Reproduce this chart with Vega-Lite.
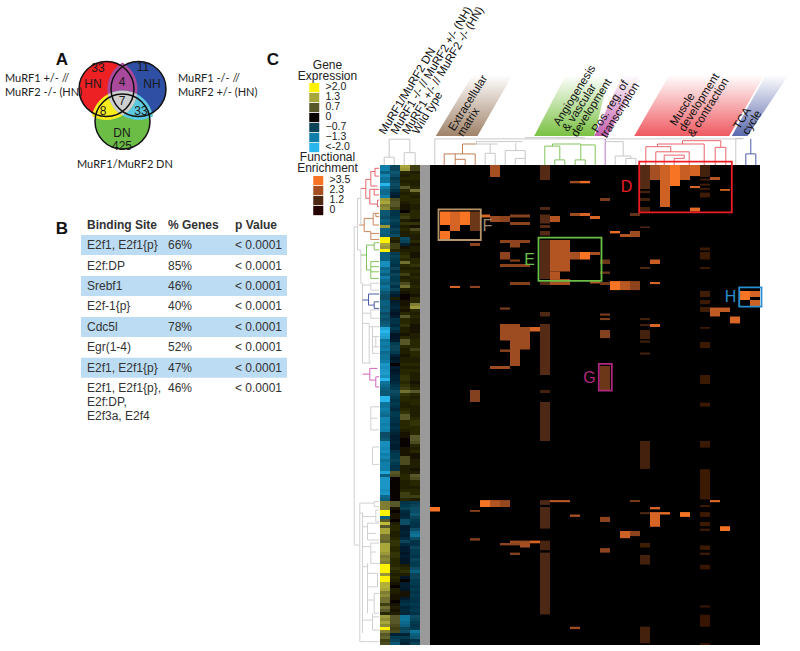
{"$schema":"https://vega.github.io/schema/vega-lite/v6.json","padding":0,"spacing":0,"config":{"view":{"stroke":null},"font":"Liberation Sans"},
"datasets":{
"venn":[{"set":"HN","x":106.5,"y":89},{"set":"NH","x":138.5,"y":89},{"set":"DN","x":122.5,"y":121.5}],
"regions":[{"region":"HN & NH","x":122.5,"y":100},{"region":"HN & DN","x":122.5,"y":100},{"region":"NH & DN","x":122.5,"y":100},{"region":"All","x":122.5,"y":100}],
"vennText":[{"x":98,"y":68,"label":"33"},{"x":93,"y":84,"label":"HN"},{"x":122,"y":82,"label":"4"},{"x":143,"y":67,"label":"11"},{"x":152,"y":84,"label":"NH"},{"x":122,"y":101,"label":"7"},{"x":103,"y":111,"label":"8"},{"x":141,"y":111,"label":"33"},{"x":122,"y":133,"label":"DN"},{"x":122,"y":146,"label":"425"}],
"vennNames":[{"x":5,"y":79,"label":"MuRF1 +/- //"},{"x":5,"y":93,"label":"MuRF2 -/- (HN)"},{"x":178,"y":79,"label":"MuRF1 -/- //"},{"x":178,"y":93,"label":"MuRF2 +/- (HN)"},{"x":77,"y":165,"label":"MuRF1/MuRF2 DN"}],
"table":[{"row":0,"site":"Binding Site","genes":"% Genes","p":"p Value","head":true,"shade":false},{"row":1,"site":"E2f1, E2f1{p}","genes":"66%","p":"< 0.0001","head":false,"shade":true},{"row":2,"site":"E2f:DP","genes":"85%","p":"< 0.0001","head":false,"shade":false},{"row":3,"site":"Srebf1","genes":"46%","p":"< 0.0001","head":false,"shade":true},{"row":4,"site":"E2f-1{p}","genes":"40%","p":"< 0.0001","head":false,"shade":false},{"row":5,"site":"Cdc5l","genes":"78%","p":"< 0.0001","head":false,"shade":true},{"row":6,"site":"Egr(1-4)","genes":"52%","p":"< 0.0001","head":false,"shade":false},{"row":7,"site":"E2f1, E2f1{p}","genes":"47%","p":"< 0.0001","head":false,"shade":true},{"row":8,"site":"E2f1, E2f1{p},\nE2f:DP,\nE2f3a, E2f4","genes":"46%","p":"< 0.0001","head":false,"shade":false}],
"frame":[{"part":"matrix","col":0,"col2":33,"row":0,"row2":160},{"part":"spacer","col":-1,"col2":0,"row":0,"row2":160}],
"boxes":[{"name":"D","col":20.92,"col2":30.18,"row":-1.1,"row2":15.8,"textCol":19.65,"textRow":7.3},{"name":"E","col":10.85,"col2":17.15,"row":24.2,"row2":38.6,"textCol":9.95,"textRow":31.7},{"name":"F","col":0.85,"col2":5.08,"row":14.8,"row2":25,"textCol":5.75,"textRow":20.3},{"name":"G","col":16.88,"col2":18.18,"row":66.3,"row2":75.2,"textCol":15.95,"textRow":71},{"name":"H","col":30.92,"col2":33.15,"row":40.8,"row2":47.2,"textCol":30.05,"textRow":44}],
"sampleLabels":[{"col":-4.75,"row":-10.5,"label":"MuRF1/MuRF2 DN"},{"col":-3.58,"row":-10.5,"label":"MuRF1 -/- // MuRF2 +/- (NH)"},{"col":-2.42,"row":-10.5,"label":"MuRF1 +/- // MuRF2 -/- (HN)"},{"col":-1.42,"row":-10.5,"label":"Wild type"}],
"bandLabels":[{"col":2.42,"row":-11.1,"label":"Extracellular\nmatrix"},{"col":12.92,"row":-12.8,"label":"Angiogenesis\n& vascular\ndevelopment"},{"col":16.75,"row":-10.6,"label":"Pos. reg. of\ntranscription"},{"col":24.58,"row":-12.8,"label":"Muscle\ndevelopment\n& contraction"},{"col":30.92,"row":-11.7,"label":"TCA\ncycle"}],
"legendTitles":[{"col":-10.25,"row":-32,"label":"Gene\nExpression"},{"col":-10.25,"row":-1.3,"label":"Functional\nEnrichment"}],
"top":[
{"b":"grey","col":-4.08,"col2":-2.02,"row":-8.6,"row2":-8.6},{"b":"grey","col":-4.08,"col2":-4.08,"row":-8.6,"row2":-2.6},{"b":"grey","col":-4.58,"col2":-3.58,"row":-2.6,"row2":-2.6},{"b":"grey","col":-4.58,"col2":-4.58,"row":-2.6,"row2":0},{"b":"grey","col":-3.58,"col2":-3.58,"row":-2.6,"row2":0},{"b":"grey","col":-2.02,"col2":-2.02,"row":-8.6,"row2":-4.1},{"b":"grey","col":-2.58,"col2":-1.48,"row":-4.1,"row2":-4.1},{"b":"grey","col":-2.58,"col2":-2.58,"row":-4.1,"row2":0},{"b":"grey","col":-1.48,"col2":-1.48,"row":-4.1,"row2":0},
{"b":"grey","col":0.48,"col2":31.25,"row":-8.7,"row2":-8.7},{"b":"grey","col":0.48,"col2":0.48,"row":-8.7,"row2":0},{"b":"grey","col":9.5,"col2":15.5,"row":-9.1,"row2":-9.1},
{"b":"grey","col":4.58,"col2":6.75,"row":-7,"row2":-7},{"b":"brown","col":3.25,"col2":4.58,"row":-7,"row2":-7},{"b":"brown","col":3.25,"col2":3.25,"row":-7,"row2":-3.7},{"b":"brown","col":1.42,"col2":4.52,"row":-3.7,"row2":-3.7},{"b":"brown","col":1.42,"col2":1.42,"row":-3.7,"row2":0},{"b":"brown","col":4.52,"col2":4.52,"row":-3.7,"row2":0},{"b":"brown","col":2.52,"col2":2.52,"row":-3.7,"row2":-1.9},{"b":"brown","col":2.52,"col2":3.52,"row":-1.9,"row2":-1.9},{"b":"brown","col":2.52,"col2":2.52,"row":-1.9,"row2":0},{"b":"brown","col":3.52,"col2":3.52,"row":-1.9,"row2":0},
{"b":"grey","col":4.65,"col2":9.25,"row":-7.8,"row2":-7.8},{"b":"grey","col":4.65,"col2":4.65,"row":-7.8,"row2":-7},{"b":"grey","col":6.02,"col2":6.02,"row":-7,"row2":-3.9},{"b":"grey","col":5.52,"col2":6.52,"row":-3.9,"row2":-3.9},{"b":"grey","col":5.52,"col2":5.52,"row":-3.9,"row2":0},{"b":"grey","col":6.52,"col2":6.52,"row":-3.9,"row2":0},
{"b":"grey","col":8.58,"col2":8.58,"row":-7.4,"row2":-4.8},{"b":"grey","col":7.52,"col2":9.52,"row":-4.8,"row2":-4.8},{"b":"grey","col":7.52,"col2":7.52,"row":-4.8,"row2":0},{"b":"grey","col":9.52,"col2":9.52,"row":-4.8,"row2":0},{"b":"grey","col":8.52,"col2":9.52,"row":-2.2,"row2":-2.2},{"b":"grey","col":8.52,"col2":8.52,"row":-2.2,"row2":0},
{"b":"green","col":11.48,"col2":12.98,"row":-6.3,"row2":-6.3},{"b":"green","col":11.48,"col2":11.48,"row":-6.3,"row2":0},{"b":"green","col":12.98,"col2":12.98,"row":-6.3,"row2":-1.7},{"b":"green","col":12.48,"col2":13.48,"row":-1.7,"row2":-1.7},{"b":"green","col":12.48,"col2":12.48,"row":-1.7,"row2":0},{"b":"green","col":13.48,"col2":13.48,"row":-1.7,"row2":0},{"b":"green","col":12.25,"col2":15.08,"row":-7,"row2":-7},{"b":"green","col":12.25,"col2":12.25,"row":-7,"row2":-6.3},{"b":"green","col":15.08,"col2":15.08,"row":-7,"row2":-1.7},{"b":"green","col":15.08,"col2":16.52,"row":-6.7,"row2":-6.7},{"b":"green","col":16.52,"col2":16.52,"row":-6.7,"row2":0},{"b":"green","col":14.52,"col2":15.52,"row":-1.7,"row2":-1.7},{"b":"green","col":14.52,"col2":14.52,"row":-1.7,"row2":0},{"b":"green","col":15.52,"col2":15.52,"row":-1.7,"row2":0},
{"b":"pink","col":17.52,"col2":17.52,"row":-8.7,"row2":0},
{"b":"grey","col":17.52,"col2":19.32,"row":-7.8,"row2":-7.8},{"b":"grey","col":19.32,"col2":19.32,"row":-7.8,"row2":-3},{"b":"grey","col":18.52,"col2":20.08,"row":-3,"row2":-3},{"b":"grey","col":18.52,"col2":18.52,"row":-3,"row2":0},{"b":"grey","col":20.08,"col2":20.08,"row":-3,"row2":-2.2},{"b":"grey","col":19.58,"col2":20.58,"row":-2.2,"row2":-2.2},{"b":"grey","col":19.58,"col2":19.58,"row":-2.2,"row2":0},{"b":"grey","col":20.58,"col2":20.58,"row":-2.2,"row2":0},
{"b":"red","col":25.25,"col2":29.08,"row":-8.1,"row2":-8.1},{"b":"red","col":25.25,"col2":25.25,"row":-8.1,"row2":-7},{"b":"red","col":22.75,"col2":27.42,"row":-7,"row2":-7},{"b":"red","col":22.75,"col2":22.75,"row":-7,"row2":-6.1},{"b":"red","col":21.58,"col2":24.08,"row":-6.1,"row2":-6.1},{"b":"red","col":21.58,"col2":21.58,"row":-6.1,"row2":0},{"b":"red","col":24.08,"col2":24.08,"row":-6.1,"row2":-4.4},{"b":"red","col":27.42,"col2":27.42,"row":-7,"row2":0},{"b":"red","col":22.58,"col2":25.92,"row":-4.4,"row2":-4.4},{"b":"red","col":22.58,"col2":22.58,"row":-4.4,"row2":0},{"b":"red","col":25.92,"col2":25.92,"row":-4.4,"row2":0},{"b":"red","col":23.42,"col2":25.42,"row":-3.3,"row2":-3.3},{"b":"red","col":23.42,"col2":23.42,"row":-3.3,"row2":0},{"b":"red","col":25.42,"col2":25.42,"row":-3.3,"row2":-2.2},{"b":"red","col":24.42,"col2":25.42,"row":-2.2,"row2":-2.2},{"b":"red","col":24.42,"col2":24.42,"row":-2.2,"row2":0},{"b":"red","col":29.08,"col2":29.08,"row":-8.1,"row2":-5.9},{"b":"red","col":28.52,"col2":29.58,"row":-5.9,"row2":-5.9},{"b":"red","col":28.52,"col2":28.52,"row":-5.9,"row2":0},{"b":"red","col":29.58,"col2":29.58,"row":-5.9,"row2":0},
{"b":"grey","col":30.58,"col2":31.42,"row":-8.9,"row2":-8.9},{"b":"grey","col":30.58,"col2":30.58,"row":-8.9,"row2":0},
{"b":"blue","col":32.08,"col2":32.08,"row":-8.7,"row2":-3.7},{"b":"blue","col":31.58,"col2":32.58,"row":-3.7,"row2":-3.7},{"b":"blue","col":31.58,"col2":31.58,"row":-3.7,"row2":0},{"b":"blue","col":32.58,"col2":32.58,"row":-3.7,"row2":0}
],
"left":[
{"b":"red","col":-6.92,"col2":-6.42,"row":7.8,"row2":7.8},{"b":"red","col":-6.42,"col2":-6.42,"row":4.8,"row2":11.1},{"b":"red","col":-6.42,"col2":-5.92,"row":4.8,"row2":4.8},{"b":"red","col":-5.92,"col2":-5.92,"row":2.2,"row2":7},{"b":"red","col":-5.92,"col2":-5.5,"row":2.2,"row2":2.2},{"b":"red","col":-5.5,"col2":-5.5,"row":1.1,"row2":3.7},{"b":"red","col":-5.5,"col2":-5.08,"row":1.1,"row2":1.1},{"b":"red","col":-5.5,"col2":-5.08,"row":3.7,"row2":3.7},{"b":"red","col":-5.92,"col2":-5.25,"row":7,"row2":7},{"b":"red","col":-6.42,"col2":-6.02,"row":11.1,"row2":11.1},{"b":"red","col":-6.02,"col2":-6.02,"row":8.1,"row2":13},{"b":"red","col":-6.02,"col2":-5.08,"row":8.1,"row2":8.1},{"b":"red","col":-5.58,"col2":-5.58,"row":8.1,"row2":10},{"b":"red","col":-5.58,"col2":-5.08,"row":10,"row2":10},{"b":"red","col":-6.02,"col2":-5.25,"row":13,"row2":13},{"b":"red","col":-5.25,"col2":-5.25,"row":11.7,"row2":13.9},{"b":"red","col":-5.25,"col2":-5.08,"row":11.7,"row2":11.7},{"b":"red","col":-5.25,"col2":-5.08,"row":13.9,"row2":13.9},
{"b":"brown","col":-7.08,"col2":-6.58,"row":20,"row2":20},{"b":"brown","col":-6.58,"col2":-6.58,"row":17.8,"row2":22.2},{"b":"brown","col":-6.58,"col2":-5.68,"row":17.8,"row2":17.8},{"b":"brown","col":-5.68,"col2":-5.68,"row":16.1,"row2":20},{"b":"brown","col":-5.68,"col2":-5.08,"row":16.1,"row2":16.1},{"b":"brown","col":-5.42,"col2":-5.08,"row":17.2,"row2":17.2},{"b":"brown","col":-5.42,"col2":-5.42,"row":16.1,"row2":17.2},{"b":"brown","col":-5.68,"col2":-5.08,"row":20,"row2":20},{"b":"brown","col":-6.58,"col2":-5.92,"row":22.2,"row2":22.2},{"b":"brown","col":-5.92,"col2":-5.92,"row":22.2,"row2":24.8},{"b":"brown","col":-5.92,"col2":-5.08,"row":22.8,"row2":22.8},{"b":"brown","col":-5.92,"col2":-5.08,"row":24.8,"row2":24.8},
{"b":"green","col":-6.92,"col2":-6.35,"row":30,"row2":30},{"b":"green","col":-6.35,"col2":-6.35,"row":26.7,"row2":35},{"b":"green","col":-6.35,"col2":-5.58,"row":26.7,"row2":26.7},{"b":"green","col":-5.58,"col2":-5.58,"row":25.9,"row2":28.3},{"b":"green","col":-5.58,"col2":-5.08,"row":25.9,"row2":25.9},{"b":"green","col":-5.58,"col2":-5.08,"row":28.3,"row2":28.3},{"b":"green","col":-6.35,"col2":-5.92,"row":35,"row2":35},{"b":"green","col":-5.92,"col2":-5.92,"row":32.2,"row2":37.8},{"b":"green","col":-5.92,"col2":-5.08,"row":32.2,"row2":32.2},{"b":"green","col":-5.92,"col2":-5.08,"row":33.9,"row2":33.9},{"b":"green","col":-5.92,"col2":-5.08,"row":35.6,"row2":35.6},{"b":"green","col":-5.92,"col2":-5.08,"row":37.8,"row2":37.8},
{"b":"grey","col":-7.58,"col2":-7.58,"row":20.6,"row2":126.7},{"b":"grey","col":-7.58,"col2":-7.25,"row":20.6,"row2":20.6},{"b":"grey","col":-7.25,"col2":-7.25,"row":11.1,"row2":28.3},{"b":"grey","col":-7.25,"col2":-6.92,"row":11.1,"row2":11.1},{"b":"grey","col":-6.92,"col2":-6.92,"row":7.8,"row2":20},{"b":"grey","col":-7.25,"col2":-6.92,"row":28.3,"row2":28.3},{"b":"grey","col":-6.92,"col2":-6.92,"row":28.3,"row2":39.4},{"b":"grey","col":-6.92,"col2":-6.75,"row":39.4,"row2":39.4},{"b":"grey","col":-6.75,"col2":-6.75,"row":39.4,"row2":66},{"b":"grey","col":-6.75,"col2":-5.92,"row":40,"row2":40},{"b":"grey","col":-5.92,"col2":-5.92,"row":39.4,"row2":41.7},{"b":"grey","col":-5.92,"col2":-5.08,"row":39.4,"row2":39.4},{"b":"grey","col":-5.92,"col2":-5.08,"row":41.7,"row2":41.7},
{"b":"blue","col":-6.75,"col2":-6.15,"row":45,"row2":45},{"b":"blue","col":-6.15,"col2":-6.15,"row":43,"row2":46.7},{"b":"blue","col":-6.15,"col2":-5.08,"row":43,"row2":43},{"b":"blue","col":-6.15,"col2":-5.58,"row":46.7,"row2":46.7},{"b":"blue","col":-5.58,"col2":-5.58,"row":45.6,"row2":47.8},{"b":"blue","col":-5.58,"col2":-5.08,"row":45.6,"row2":45.6},{"b":"blue","col":-5.58,"col2":-5.08,"row":47.8,"row2":47.8},
{"b":"grey","col":-6.75,"col2":-5.92,"row":49.4,"row2":49.4},{"b":"grey","col":-5.92,"col2":-5.92,"row":48.3,"row2":51.1},{"b":"grey","col":-5.92,"col2":-5.08,"row":48.3,"row2":48.3},{"b":"grey","col":-5.92,"col2":-5.08,"row":51.1,"row2":51.1},{"b":"grey","col":-6.75,"col2":-6.08,"row":52.8,"row2":52.8},{"b":"grey","col":-6.08,"col2":-6.08,"row":52.8,"row2":66},{"b":"grey","col":-6.08,"col2":-5.08,"row":53.9,"row2":53.9},{"b":"grey","col":-5.75,"col2":-5.75,"row":53.9,"row2":62.8},{"b":"grey","col":-5.75,"col2":-5.08,"row":57.2,"row2":57.2},{"b":"grey","col":-5.75,"col2":-5.08,"row":60.6,"row2":60.6},{"b":"grey","col":-5.42,"col2":-5.42,"row":57.2,"row2":60.6},{"b":"grey","col":-5.75,"col2":-5.08,"row":62.8,"row2":62.8},{"b":"grey","col":-6.75,"col2":-5.92,"row":66,"row2":66},
{"b":"pink","col":-6.75,"col2":-6.02,"row":69.7,"row2":69.7},{"b":"pink","col":-6.02,"col2":-6.02,"row":67.8,"row2":71.7},{"b":"pink","col":-6.02,"col2":-5.25,"row":67.8,"row2":67.8},{"b":"pink","col":-6.02,"col2":-5.42,"row":71.7,"row2":71.7},{"b":"pink","col":-5.42,"col2":-5.42,"row":70.6,"row2":74},{"b":"pink","col":-5.42,"col2":-5.08,"row":70.6,"row2":70.6},{"b":"pink","col":-5.42,"col2":-5.08,"row":74,"row2":74},
{"b":"grey","col":-5.92,"col2":-5.92,"row":80.6,"row2":88.3},{"b":"grey","col":-5.92,"col2":-5.08,"row":80.6,"row2":80.6},{"b":"grey","col":-5.92,"col2":-5.08,"row":88.3,"row2":88.3},{"b":"grey","col":-5.92,"col2":-5.25,"row":84.4,"row2":84.4},{"b":"grey","col":-5.75,"col2":-5.75,"row":94,"row2":99.8},{"b":"grey","col":-5.75,"col2":-5.08,"row":94,"row2":94},{"b":"grey","col":-5.75,"col2":-5.08,"row":99.8,"row2":99.8},
{"b":"grey","col":-7.58,"col2":-7.02,"row":126.7,"row2":126.7},{"b":"grey","col":-7.02,"col2":-7.02,"row":112.7,"row2":158.9},{"b":"grey","col":-7.02,"col2":-5.58,"row":112.7,"row2":112.7},{"b":"grey","col":-5.58,"col2":-5.58,"row":112.2,"row2":113.9},{"b":"grey","col":-5.58,"col2":-5.08,"row":112.2,"row2":112.2},{"b":"grey","col":-5.58,"col2":-5.08,"row":113.9,"row2":113.9},{"b":"grey","col":-7.02,"col2":-6.75,"row":116,"row2":116},{"b":"grey","col":-6.75,"col2":-6.75,"row":116,"row2":156},{"b":"grey","col":-6.75,"col2":-5.42,"row":117.2,"row2":117.2},{"b":"grey","col":-5.42,"col2":-5.42,"row":115,"row2":118.9},{"b":"grey","col":-5.42,"col2":-5.08,"row":115,"row2":115},{"b":"grey","col":-5.42,"col2":-5.08,"row":118.9,"row2":118.9},{"b":"grey","col":-6.75,"col2":-6.25,"row":120.6,"row2":120.6},{"b":"grey","col":-6.25,"col2":-6.25,"row":119.4,"row2":125},{"b":"grey","col":-6.25,"col2":-5.08,"row":119.4,"row2":119.4},{"b":"grey","col":-6.25,"col2":-5.08,"row":125,"row2":125},{"b":"grey","col":-6.25,"col2":-5.42,"row":122.8,"row2":122.8},{"b":"grey","col":-6.75,"col2":-5.92,"row":127.2,"row2":127.2},{"b":"grey","col":-5.92,"col2":-5.92,"row":126,"row2":132.8},{"b":"grey","col":-5.92,"col2":-5.08,"row":126,"row2":126},{"b":"grey","col":-5.92,"col2":-5.08,"row":132.8,"row2":132.8},{"b":"grey","col":-5.92,"col2":-5.42,"row":129,"row2":129},{"b":"grey","col":-6.75,"col2":-6.25,"row":133.9,"row2":133.9},{"b":"grey","col":-6.25,"col2":-6.25,"row":132.8,"row2":149.4},{"b":"grey","col":-6.25,"col2":-5.25,"row":136.1,"row2":136.1},{"b":"grey","col":-6.25,"col2":-5.25,"row":140.6,"row2":140.6},{"b":"grey","col":-5.25,"col2":-5.25,"row":136.1,"row2":140.6},{"b":"grey","col":-6.25,"col2":-5.58,"row":145,"row2":145},{"b":"grey","col":-5.58,"col2":-5.58,"row":142.8,"row2":149.4},{"b":"grey","col":-5.58,"col2":-5.08,"row":142.8,"row2":142.8},{"b":"grey","col":-5.58,"col2":-5.08,"row":149.4,"row2":149.4},{"b":"grey","col":-6.75,"col2":-5.75,"row":151.7,"row2":151.7},{"b":"grey","col":-5.75,"col2":-5.75,"row":149.4,"row2":155},{"b":"grey","col":-5.75,"col2":-5.08,"row":150.6,"row2":150.6},{"b":"grey","col":-5.75,"col2":-5.08,"row":155,"row2":155},{"b":"grey","col":-7.02,"col2":-5.08,"row":158.9,"row2":158.9}
],
"samples":[{"sample":"DN","col":-5,"col2":-4},{"sample":"NH","col":-4,"col2":-3},{"sample":"HN","col":-3,"col2":-2},{"sample":"WT","col":-2,"col2":-1}],
"expression":[
{"row":0,"row2":1,"DN":-1.3,"NH":-0.7,"HN":1.3,"WT":0.5},{"row":1,"row2":2,"DN":-1.3,"NH":-0.7,"HN":1.2,"WT":0.5},{"row":2,"row2":3,"DN":-1.0,"NH":-0.9,"HN":0.3,"WT":0.2},{"row":3,"row2":4,"DN":-1.4,"NH":-0.8,"HN":0.2,"WT":0.3},{"row":4,"row2":5,"DN":-1.2,"NH":-0.6,"HN":0.3,"WT":0.3},{"row":5,"row2":6,"DN":-1.2,"NH":-0.7,"HN":0.2,"WT":0.2},{"row":6,"row2":7,"DN":-2.0,"NH":-0.8,"HN":0.3,"WT":0.2},{"row":7,"row2":8,"DN":-1.3,"NH":-0.7,"HN":0.7,"WT":0.3},{"row":8,"row2":9,"DN":-1.1,"NH":-0.5,"HN":0.3,"WT":0.9},{"row":9,"row2":10,"DN":-1.1,"NH":-0.3,"HN":0.2,"WT":0.3},
{"row":10,"row2":11,"DN":-1.3,"NH":-0.2,"HN":0.3,"WT":0.2},{"row":11,"row2":12,"DN":1.2,"NH":0.6,"HN":0.3,"WT":0.3},{"row":12,"row2":13,"DN":1.3,"NH":0.7,"HN":0.2,"WT":0.3},{"row":13,"row2":14,"DN":1.0,"NH":0.7,"HN":0.1,"WT":0.2},{"row":14,"row2":15,"DN":1.1,"NH":0.5,"HN":0.1,"WT":0.2},{"row":15,"row2":16,"DN":-0.9,"NH":-0.5,"HN":0.0,"WT":0.3},{"row":16,"row2":17,"DN":-0.9,"NH":-0.5,"HN":0.4,"WT":0.3},{"row":17,"row2":18,"DN":-0.8,"NH":-0.6,"HN":0.5,"WT":0.3},{"row":18,"row2":19,"DN":-1.0,"NH":-0.7,"HN":0.2,"WT":0.1},{"row":19,"row2":20,"DN":-0.9,"NH":-0.6,"HN":0.4,"WT":0.4},
{"row":20,"row2":21,"DN":1.2,"NH":-0.5,"HN":0.2,"WT":0.1},{"row":21,"row2":22,"DN":-1.0,"NH":-0.7,"HN":0.3,"WT":0.6},{"row":22,"row2":23,"DN":-1.0,"NH":-0.6,"HN":0.2,"WT":0.3},{"row":23,"row2":24,"DN":-0.9,"NH":-0.8,"HN":0.2,"WT":0.2},{"row":24,"row2":25,"DN":2.0,"NH":0.3,"HN":-0.8,"WT":0.2},{"row":25,"row2":26,"DN":2.0,"NH":0.2,"HN":-0.7,"WT":0.3},{"row":26,"row2":27,"DN":1.3,"NH":0.5,"HN":-0.3,"WT":0.1},{"row":27,"row2":28,"DN":1.2,"NH":0.5,"HN":0.1,"WT":0.2},{"row":28,"row2":29,"DN":2.0,"NH":0.3,"HN":0.2,"WT":0.2},{"row":29,"row2":30,"DN":-1.0,"NH":-0.6,"HN":0.3,"WT":0.1},
{"row":30,"row2":31,"DN":-1.0,"NH":-0.7,"HN":0.4,"WT":0.1},{"row":31,"row2":32,"DN":-1.0,"NH":-0.6,"HN":0.3,"WT":0.3},{"row":32,"row2":33,"DN":-1.5,"NH":-0.6,"HN":0.9,"WT":0.3},{"row":33,"row2":34,"DN":-1.5,"NH":-0.5,"HN":0.3,"WT":0.4},{"row":34,"row2":35,"DN":-1.1,"NH":-0.7,"HN":0.2,"WT":0.2},{"row":35,"row2":36,"DN":-1.2,"NH":-0.5,"HN":0.3,"WT":0.3},{"row":36,"row2":37,"DN":-1.0,"NH":-0.7,"HN":0.5,"WT":0.2},{"row":37,"row2":38,"DN":-1.3,"NH":-0.6,"HN":0.2,"WT":0.3},{"row":38,"row2":39,"DN":-1.1,"NH":-0.6,"HN":0.3,"WT":0.2},{"row":39,"row2":40,"DN":-1.0,"NH":-0.7,"HN":0.6,"WT":0.2},
{"row":40,"row2":41,"DN":-1.2,"NH":-0.5,"HN":0.9,"WT":0.3},{"row":41,"row2":42,"DN":-1.1,"NH":-0.7,"HN":0.2,"WT":0.2},{"row":42,"row2":43,"DN":-0.9,"NH":-0.4,"HN":0.1,"WT":0.2},{"row":43,"row2":44,"DN":-0.8,"NH":-0.2,"HN":0.0,"WT":0.1},{"row":44,"row2":45,"DN":-0.8,"NH":0.2,"HN":0.0,"WT":0.3},{"row":45,"row2":46,"DN":-1.0,"NH":-0.2,"HN":0.1,"WT":0.3},{"row":46,"row2":47,"DN":-1.0,"NH":-0.3,"HN":0.1,"WT":1.0},{"row":47,"row2":48,"DN":-0.9,"NH":-0.4,"HN":0.2,"WT":1.2},{"row":48,"row2":49,"DN":-1.0,"NH":-0.2,"HN":0.1,"WT":0.3},{"row":49,"row2":50,"DN":-0.8,"NH":-0.1,"HN":0.3,"WT":0.2},
{"row":50,"row2":51,"DN":-0.9,"NH":-0.2,"HN":0.7,"WT":0.3},{"row":51,"row2":52,"DN":-0.8,"NH":-0.5,"HN":0.3,"WT":0.2},{"row":52,"row2":53,"DN":-0.9,"NH":-0.5,"HN":0.3,"WT":0.2},{"row":53,"row2":54,"DN":-1.0,"NH":-0.4,"HN":0.4,"WT":0.1},{"row":54,"row2":55,"DN":-1.8,"NH":-0.6,"HN":0.2,"WT":0.1},{"row":55,"row2":56,"DN":-2.0,"NH":-0.4,"HN":0.2,"WT":0.1},{"row":56,"row2":57,"DN":-1.8,"NH":-0.1,"HN":0.1,"WT":0.2},{"row":57,"row2":58,"DN":-1.7,"NH":-0.1,"HN":0.3,"WT":0.2},{"row":58,"row2":59,"DN":-1.2,"NH":-0.2,"HN":0.7,"WT":0.3},{"row":59,"row2":60,"DN":-1.3,"NH":-0.6,"HN":0.7,"WT":0.3},
{"row":60,"row2":61,"DN":-1.2,"NH":-0.7,"HN":0.3,"WT":0.3},{"row":61,"row2":62,"DN":-1.3,"NH":-0.7,"HN":0.2,"WT":0.5},{"row":62,"row2":63,"DN":-1.1,"NH":-0.6,"HN":0.2,"WT":0.3},{"row":63,"row2":64,"DN":-1.2,"NH":-0.3,"HN":0.1,"WT":0.3},{"row":64,"row2":65,"DN":-1.2,"NH":-0.1,"HN":0.2,"WT":0.2},{"row":65,"row2":66,"DN":-1.3,"NH":-0.2,"HN":0.2,"WT":0.2},{"row":66,"row2":67,"DN":-1.6,"NH":0.0,"HN":0.3,"WT":0.3},{"row":67,"row2":68,"DN":-1.5,"NH":-0.2,"HN":0.2,"WT":0.2},{"row":68,"row2":69,"DN":-1.6,"NH":-0.1,"HN":0.3,"WT":0.3},{"row":69,"row2":70,"DN":-1.7,"NH":-0.2,"HN":0.3,"WT":0.2},
{"row":70,"row2":71,"DN":-1.5,"NH":-0.3,"HN":0.4,"WT":0.2},{"row":71,"row2":72,"DN":-2.0,"NH":-0.3,"HN":0.4,"WT":0.2},{"row":72,"row2":73,"DN":-1.2,"NH":-0.4,"HN":0.3,"WT":0.1},{"row":73,"row2":74,"DN":-1.1,"NH":-0.5,"HN":0.4,"WT":0.2},{"row":74,"row2":75,"DN":-1.0,"NH":-0.6,"HN":0.5,"WT":0.3},{"row":75,"row2":76,"DN":-0.9,"NH":-0.8,"HN":0.9,"WT":0.7},{"row":76,"row2":77,"DN":-0.9,"NH":-0.7,"HN":0.4,"WT":0.3},{"row":77,"row2":78,"DN":-2.0,"NH":-0.6,"HN":0.3,"WT":0.2},{"row":78,"row2":79,"DN":-2.0,"NH":-0.5,"HN":0.3,"WT":0.3},{"row":79,"row2":80,"DN":-1.2,"NH":-0.6,"HN":0.2,"WT":0.3},
{"row":80,"row2":81,"DN":-1.2,"NH":-0.5,"HN":0.2,"WT":0.2},{"row":81,"row2":82,"DN":-1.3,"NH":-0.4,"HN":0.3,"WT":0.2},{"row":82,"row2":83,"DN":-1.2,"NH":-0.6,"HN":0.4,"WT":0.2},{"row":83,"row2":84,"DN":-1.1,"NH":-0.6,"HN":0.7,"WT":0.2},{"row":84,"row2":85,"DN":-1.4,"NH":-0.5,"HN":0.7,"WT":0.3},{"row":85,"row2":86,"DN":-1.4,"NH":-0.5,"HN":0.3,"WT":0.4},{"row":86,"row2":87,"DN":-1.3,"NH":-0.4,"HN":0.3,"WT":0.4},{"row":87,"row2":88,"DN":-1.4,"NH":-0.5,"HN":0.3,"WT":0.3},{"row":88,"row2":89,"DN":-1.3,"NH":-0.4,"HN":0.2,"WT":0.3},{"row":89,"row2":90,"DN":-0.8,"NH":-0.3,"HN":0.1,"WT":0.3},
{"row":90,"row2":91,"DN":-0.8,"NH":-0.2,"HN":0.1,"WT":0.7},{"row":91,"row2":92,"DN":-0.9,"NH":-0.2,"HN":0.0,"WT":0.7},{"row":92,"row2":93,"DN":-1.5,"NH":-0.3,"HN":0.0,"WT":0.6},{"row":93,"row2":94,"DN":-1.5,"NH":-0.2,"HN":0.0,"WT":0.3},{"row":94,"row2":95,"DN":-1.4,"NH":-0.2,"HN":0.1,"WT":0.2},{"row":95,"row2":96,"DN":-1.5,"NH":-0.5,"HN":0.1,"WT":0.3},{"row":96,"row2":97,"DN":-1.3,"NH":-0.6,"HN":0.1,"WT":0.1},{"row":97,"row2":98,"DN":-1.4,"NH":-0.6,"HN":0.6,"WT":0.1},{"row":98,"row2":99,"DN":-1.2,"NH":-0.7,"HN":0.6,"WT":0.2},{"row":99,"row2":100,"DN":-1.3,"NH":-0.6,"HN":0.6,"WT":0.2},
{"row":100,"row2":101,"DN":-1.3,"NH":-0.5,"HN":0.2,"WT":0.2},{"row":101,"row2":102,"DN":-1.3,"NH":-0.5,"HN":0.2,"WT":0.1},{"row":102,"row2":103,"DN":-1.8,"NH":0.7,"HN":0.2,"WT":0.2},{"row":103,"row2":104,"DN":-1.0,"NH":0.6,"HN":0.3,"WT":0.7},{"row":104,"row2":105,"DN":-1.6,"NH":0.0,"HN":0.3,"WT":0.6},{"row":105,"row2":106,"DN":-1.6,"NH":0.0,"HN":0.2,"WT":0.3},{"row":106,"row2":107,"DN":-1.6,"NH":0.0,"HN":0.2,"WT":0.3},{"row":107,"row2":108,"DN":-1.6,"NH":0.0,"HN":0.2,"WT":0.2},{"row":108,"row2":109,"DN":-1.5,"NH":0.0,"HN":0.3,"WT":0.3},{"row":109,"row2":110,"DN":-1.6,"NH":0.0,"HN":0.5,"WT":0.3},
{"row":110,"row2":111,"DN":-1.1,"NH":0.0,"HN":0.5,"WT":0.5},{"row":111,"row2":112,"DN":-1.0,"NH":0.0,"HN":0.3,"WT":0.2},{"row":112,"row2":113,"DN":1.0,"NH":0.7,"HN":-0.5,"WT":-0.6},{"row":113,"row2":114,"DN":1.0,"NH":0.7,"HN":-0.6,"WT":-0.7},{"row":114,"row2":115,"DN":1.0,"NH":0.1,"HN":-0.7,"WT":-0.8},{"row":115,"row2":116,"DN":2.0,"NH":0.0,"HN":-0.4,"WT":-0.8},{"row":116,"row2":117,"DN":2.0,"NH":0.1,"HN":-0.3,"WT":-0.9},{"row":117,"row2":118,"DN":-1.0,"NH":0.1,"HN":-0.4,"WT":-0.7},{"row":118,"row2":119,"DN":0.7,"NH":0.0,"HN":-0.8,"WT":-0.6},{"row":119,"row2":120,"DN":1.5,"NH":0.2,"HN":-0.8,"WT":-0.5},
{"row":120,"row2":121,"DN":0.7,"NH":0.3,"HN":-0.2,"WT":-0.5},{"row":121,"row2":122,"DN":1.3,"NH":0.3,"HN":-0.2,"WT":-0.8},{"row":122,"row2":123,"DN":1.3,"NH":0.2,"HN":-0.3,"WT":-1.1},{"row":123,"row2":124,"DN":0.9,"NH":0.2,"HN":-0.2,"WT":-1.2},{"row":124,"row2":125,"DN":0.9,"NH":0.3,"HN":-0.4,"WT":-0.8},{"row":125,"row2":126,"DN":0.8,"NH":0.4,"HN":-0.7,"WT":-0.5},{"row":126,"row2":127,"DN":1.3,"NH":0.4,"HN":-0.4,"WT":-0.5},{"row":127,"row2":128,"DN":1.3,"NH":0.3,"HN":-0.2,"WT":-0.7},{"row":128,"row2":129,"DN":1.3,"NH":0.3,"HN":-0.2,"WT":-0.6},{"row":129,"row2":130,"DN":1.2,"NH":0.4,"HN":-0.1,"WT":-0.6},
{"row":130,"row2":131,"DN":1.0,"NH":0.4,"HN":-0.2,"WT":-0.5},{"row":131,"row2":132,"DN":1.1,"NH":0.3,"HN":-0.1,"WT":-0.7},{"row":132,"row2":133,"DN":1.0,"NH":0.3,"HN":-0.1,"WT":-0.6},{"row":133,"row2":134,"DN":2.0,"NH":0.3,"HN":0.2,"WT":-0.6},{"row":134,"row2":135,"DN":2.0,"NH":0.4,"HN":0.3,"WT":-0.8},{"row":135,"row2":136,"DN":2.0,"NH":0.3,"HN":0.4,"WT":-1.0},{"row":136,"row2":137,"DN":1.2,"NH":0.2,"HN":0.2,"WT":-0.7},{"row":137,"row2":138,"DN":2.0,"NH":0.3,"HN":-0.1,"WT":-0.7},{"row":138,"row2":139,"DN":2.0,"NH":0.2,"HN":0.0,"WT":-0.6},{"row":139,"row2":140,"DN":1.4,"NH":0.1,"HN":-0.2,"WT":-0.6},
{"row":140,"row2":141,"DN":1.4,"NH":0.0,"HN":-0.2,"WT":-0.5},{"row":141,"row2":142,"DN":1.3,"NH":0.2,"HN":-0.1,"WT":-0.6},{"row":142,"row2":143,"DN":1.0,"NH":0.2,"HN":0.1,"WT":-0.5},{"row":143,"row2":144,"DN":1.1,"NH":0.1,"HN":0.1,"WT":-0.6},{"row":144,"row2":145,"DN":0.9,"NH":0.1,"HN":-0.2,"WT":-0.5},{"row":145,"row2":146,"DN":0.9,"NH":0.0,"HN":-0.4,"WT":-0.5},{"row":146,"row2":147,"DN":0.5,"NH":0.1,"HN":-0.5,"WT":-0.6},{"row":147,"row2":148,"DN":0.9,"NH":0.2,"HN":-0.3,"WT":-0.5},{"row":148,"row2":149,"DN":0.7,"NH":0.1,"HN":-0.4,"WT":-0.6},{"row":149,"row2":150,"DN":0.3,"NH":0.2,"HN":-0.3,"WT":-0.5},
{"row":150,"row2":151,"DN":1.2,"NH":0.7,"HN":-1.2,"WT":-0.8},{"row":151,"row2":152,"DN":1.1,"NH":0.7,"HN":-1.2,"WT":-0.7},{"row":152,"row2":153,"DN":1.3,"NH":0.7,"HN":-1.1,"WT":-0.6},{"row":153,"row2":154,"DN":1.1,"NH":0.6,"HN":-1.0,"WT":-0.5},{"row":154,"row2":155,"DN":2.0,"NH":0.5,"HN":-0.7,"WT":-0.6},{"row":155,"row2":156,"DN":1.0,"NH":0.6,"HN":-0.8,"WT":-1.2},{"row":156,"row2":157,"DN":0.7,"NH":-0.3,"HN":-0.3,"WT":-1.0},{"row":157,"row2":158,"DN":0.8,"NH":-0.6,"HN":-0.6,"WT":-0.9},{"row":158,"row2":159,"DN":0.5,"NH":-0.7,"HN":-0.4,"WT":-0.5},{"row":159,"row2":160,"DN":0.6,"NH":-0.9,"HN":-0.3,"WT":-0.7}
],
"enrichment":[
{"col":6,"col2":7,"row":0,"row2":4,"v":2.3},{"col":11,"col2":12,"row":0,"row2":5,"v":1.3},{"col":14,"col2":15,"row":5.3,"row2":6.1,"v":2.2},{"col":15,"col2":16,"row":5.3,"row2":6.1,"v":3.3},{"col":17,"col2":18,"row":11,"row2":12,"v":1.8},{"col":11,"col2":12,"row":14,"row2":15,"v":1.2},{"col":14,"col2":15,"row":16,"row2":17,"v":2.2},{"col":15,"col2":16,"row":16,"row2":17,"v":3},{"col":16,"col2":17,"row":17,"row2":18,"v":3},{"col":20,"col2":21,"row":16,"row2":17,"v":1.5},
{"col":1,"col2":2,"row":15.5,"row2":20,"v":3.5},{"col":2,"col2":3,"row":15.5,"row2":22,"v":3},{"col":3,"col2":4,"row":15.5,"row2":20,"v":3.5},{"col":4,"col2":5,"row":15.5,"row2":22,"v":1.6},{"col":1,"col2":2,"row":22,"row2":25,"v":3.5},
{"col":5,"col2":6,"row":16.5,"row2":17.5,"v":3},{"col":6,"col2":7,"row":17,"row2":19,"v":2.2},{"col":7,"col2":8,"row":17,"row2":19,"v":2},{"col":8,"col2":10,"row":16.5,"row2":17.5,"v":1.9},{"col":8,"col2":10,"row":19,"row2":20,"v":2},{"col":11,"col2":12,"row":16.5,"row2":19.5,"v":1.3},{"col":12,"col2":13,"row":17,"row2":19,"v":2.5},{"col":11,"col2":12,"row":20,"row2":21,"v":1.3},{"col":11,"col2":12,"row":22,"row2":23.5,"v":1.3},
{"col":18,"col2":19,"row":22,"row2":22.8,"v":3.3},{"col":19,"col2":20,"row":23,"row2":24,"v":2.5},{"col":20,"col2":21,"row":22,"row2":24,"v":2.2},{"col":21,"col2":22,"row":20.5,"row2":21,"v":1.2},{"col":4,"col2":5,"row":26,"row2":27,"v":2},{"col":7,"col2":10,"row":25,"row2":26,"v":2},{"col":8,"col2":9,"row":26,"row2":27.5,"v":2},
{"col":11,"col2":12,"row":25,"row2":38,"v":1.3},{"col":12,"col2":14,"row":25,"row2":35.5,"v":2.5},{"col":12,"col2":13,"row":35.5,"row2":38,"v":2.5},{"col":14,"col2":15,"row":29,"row2":31.5,"v":2.3},{"col":15,"col2":16,"row":29,"row2":31.5,"v":3.5},{"col":16,"col2":17,"row":29,"row2":30,"v":2.3},
{"col":7,"col2":8,"row":29,"row2":31.5,"v":2},{"col":8,"col2":9,"row":31.5,"row2":32.2,"v":1.9},{"col":7,"col2":10,"row":33,"row2":34,"v":2},{"col":17,"col2":18,"row":31.5,"row2":33,"v":1.6},{"col":17,"col2":18,"row":35.5,"row2":36.3,"v":1.6},{"col":22,"col2":23,"row":31.5,"row2":33,"v":2.8},{"col":21,"col2":22,"row":34,"row2":34.6,"v":1.3},
{"col":11,"col2":12,"row":39,"row2":40,"v":1.3},{"col":12,"col2":14,"row":38,"row2":40,"v":2.3},{"col":16,"col2":17,"row":38.7,"row2":39.5,"v":2.5},{"col":17,"col2":18,"row":39,"row2":40,"v":1.7},{"col":18,"col2":19,"row":38.7,"row2":41.7,"v":3.5},{"col":19,"col2":20,"row":38.7,"row2":41.7,"v":2.6},{"col":20,"col2":21,"row":38.7,"row2":41.7,"v":2},{"col":22,"col2":23,"row":39,"row2":39.7,"v":3},{"col":8,"col2":10,"row":39,"row2":40,"v":1.9},{"col":2,"col2":3,"row":40.3,"row2":41,"v":3},{"col":4,"col2":5,"row":40.3,"row2":41,"v":2},
{"col":21,"col2":22,"row":0,"row2":8,"v":1.3},{"col":21,"col2":22,"row":8.6,"row2":9.4,"v":1},{"col":21,"col2":22,"row":11,"row2":12,"v":1},{"col":21,"col2":22,"row":14,"row2":15.5,"v":1},{"col":22,"col2":23,"row":0,"row2":5,"v":2.3},{"col":23,"col2":24,"row":0,"row2":14,"v":2.9},{"col":24,"col2":25,"row":0,"row2":7,"v":3.5},{"col":25,"col2":26,"row":0,"row2":5,"v":2.8},{"col":26,"col2":27,"row":0,"row2":3.7,"v":3},{"col":27,"col2":28,"row":0,"row2":4,"v":1},{"col":27,"col2":28,"row":4.5,"row2":5.2,"v":0.9},{"col":27,"col2":28,"row":6.2,"row2":6.9,"v":0.9},{"col":27,"col2":28,"row":7.6,"row2":8.3,"v":0.9},{"col":27,"col2":28,"row":9.2,"row2":10.8,"v":0.9},{"col":28,"col2":29,"row":4,"row2":5,"v":2.5},{"col":29,"col2":30,"row":8,"row2":8.6,"v":3},{"col":26,"col2":27,"row":7,"row2":7.7,"v":3},{"col":26,"col2":27,"row":14.2,"row2":15.5,"v":3.2},
{"col":27,"col2":28,"row":27.5,"row2":28.5,"v":0.8},{"col":27,"col2":28,"row":29,"row2":31.5,"v":0.8},{"col":27,"col2":28,"row":34,"row2":34.7,"v":0.8},{"col":27,"col2":28,"row":42,"row2":44,"v":0.9},{"col":27,"col2":28,"row":45,"row2":46.4,"v":0.8},{"col":27,"col2":28,"row":47.3,"row2":49,"v":0.9},{"col":27,"col2":28,"row":54,"row2":54.6,"v":0.8},{"col":27,"col2":28,"row":59,"row2":61,"v":0.8},{"col":27,"col2":28,"row":70,"row2":73,"v":0.8},
{"col":28,"col2":29,"row":47.5,"row2":50.5,"v":2.7},{"col":29,"col2":30,"row":47.5,"row2":49,"v":2.7},{"col":30,"col2":31,"row":50.5,"row2":52.8,"v":3.1},{"col":31,"col2":32,"row":42,"row2":45,"v":3.5},{"col":32,"col2":33,"row":42,"row2":44,"v":3},{"col":32,"col2":33,"row":45,"row2":47,"v":2.9},
{"col":7,"col2":8,"row":53,"row2":58.5,"v":2.2},{"col":8,"col2":9,"row":53,"row2":67,"v":2.2},{"col":9,"col2":10,"row":54,"row2":61.5,"v":2.2},{"col":10,"col2":11,"row":54,"row2":55.5,"v":3},{"col":11,"col2":12,"row":53,"row2":70,"v":1.3},{"col":7,"col2":8,"row":61.5,"row2":62.3,"v":2},{"col":6,"col2":8,"row":67,"row2":68,"v":2.2},{"col":7,"col2":8,"row":47.5,"row2":48.2,"v":1.8},{"col":11,"col2":12,"row":49,"row2":50.5,"v":1.2},{"col":17,"col2":18,"row":49.5,"row2":50.2,"v":1.8},{"col":17,"col2":18,"row":51,"row2":51.7,"v":1.8},{"col":17,"col2":18,"row":55,"row2":57.7,"v":1.9},
{"col":21,"col2":22,"row":51,"row2":51.7,"v":1},{"col":21,"col2":22,"row":53,"row2":53.7,"v":1},{"col":22,"col2":23,"row":53,"row2":54,"v":3},{"col":21,"col2":22,"row":55,"row2":58,"v":1},{"col":21,"col2":22,"row":58.5,"row2":59.2,"v":1},{"col":21,"col2":22,"row":62.5,"row2":63.2,"v":1},{"col":17,"col2":18,"row":67,"row2":75,"v":1.6},{"col":4,"col2":5,"row":75,"row2":79,"v":1.9},{"col":11,"col2":12,"row":75,"row2":76,"v":1},
{"col":11,"col2":12,"row":79,"row2":92,"v":1.2},{"col":27,"col2":28,"row":79.2,"row2":80.5,"v":0.8},{"col":27,"col2":28,"row":92,"row2":94.2,"v":0.8},{"col":27,"col2":28,"row":101.4,"row2":111.5,"v":0.8},{"col":21,"col2":22,"row":92,"row2":101.3,"v":1},
{"col":5,"col2":6,"row":111.7,"row2":114,"v":3.5},{"col":6,"col2":7,"row":111.7,"row2":114,"v":2.5},{"col":7,"col2":8,"row":111.7,"row2":114,"v":2.1},{"col":11,"col2":12,"row":111.7,"row2":113.3,"v":1.2},{"col":12,"col2":14,"row":111.7,"row2":112.4,"v":2.6},{"col":20,"col2":21,"row":111.7,"row2":112.3,"v":1.9},{"col":28,"col2":29,"row":111.7,"row2":112.4,"v":3.2},{"col":0,"col2":1,"row":114,"row2":115.5,"v":3.5},{"col":4,"col2":5,"row":115,"row2":115.6,"v":2},{"col":11,"col2":12,"row":114,"row2":121.2,"v":1.2},{"col":14,"col2":15,"row":116.5,"row2":117.3,"v":2.3},{"col":17,"col2":18,"row":117.3,"row2":119,"v":2},
{"col":22,"col2":23,"row":114,"row2":114.8,"v":3},{"col":22,"col2":23,"row":115.7,"row2":120.6,"v":3},{"col":23,"col2":24,"row":115.7,"row2":116.5,"v":3.3},{"col":21,"col2":22,"row":115.7,"row2":116.4,"v":1.2},{"col":25,"col2":26,"row":115.7,"row2":117.3,"v":3.5},{"col":27,"col2":28,"row":113.3,"row2":114,"v":0.8},{"col":27,"col2":28,"row":115.7,"row2":117.3,"v":0.8},{"col":27,"col2":28,"row":119,"row2":120.4,"v":0.8},{"col":27,"col2":28,"row":121.2,"row2":122,"v":0.8},{"col":29,"col2":30,"row":120.4,"row2":122,"v":3.4},{"col":19,"col2":20,"row":122,"row2":124.4,"v":2.9},{"col":20,"col2":21,"row":122,"row2":123.7,"v":2},{"col":4,"col2":5,"row":124.4,"row2":125.2,"v":1.9},
{"col":8,"col2":10,"row":125.2,"row2":126.1,"v":2.2},{"col":10,"col2":11,"row":125.2,"row2":126.1,"v":3},{"col":7,"col2":9,"row":126,"row2":126.8,"v":2},{"col":9,"col2":10,"row":126,"row2":127.5,"v":2.3},{"col":8,"col2":9,"row":129.2,"row2":130,"v":1.9},{"col":11,"col2":12,"row":125.2,"row2":128.4,"v":1.1},{"col":11,"col2":12,"row":129.2,"row2":149.8,"v":1.2},{"col":17,"col2":18,"row":127.7,"row2":129.2,"v":2},{"col":21,"col2":22,"row":126,"row2":127.5,"v":0.9},{"col":21,"col2":22,"row":130,"row2":133.2,"v":1},
{"col":27,"col2":28,"row":126.8,"row2":128.3,"v":0.8},{"col":27,"col2":28,"row":129.2,"row2":130,"v":0.8},{"col":27,"col2":28,"row":133.2,"row2":134.8,"v":0.7},{"col":27,"col2":28,"row":146.8,"row2":147.5,"v":0.7},{"col":27,"col2":28,"row":149.9,"row2":153.9,"v":0.7},{"col":27,"col2":28,"row":159.4,"row2":160,"v":0.7},{"col":14,"col2":15,"row":153.9,"row2":154.7,"v":2.2},{"col":21,"col2":22,"row":153.9,"row2":159.4,"v":1}
]
},
"hconcat":[
{"spacing":0,"vconcat":[
{"width":290,"height":205,
"encoding":{"x":{"field":"x","type":"quantitative","axis":null,"scale":{"domain":[0,290],"nice":false,"zero":false}},"y":{"field":"y","type":"quantitative","axis":null,"scale":{"domain":[0,205],"nice":false,"zero":false,"reverse":true}}},
"resolve":{"scale":{"color":"independent"}},
"layer":[
{"data":{"name":"venn"},"mark":{"type":"point","shape":"circle","filled":true,"size":3019,"opacity":1,"strokeWidth":0},"encoding":{"color":{"field":"set","type":"nominal","legend":null,"scale":{"domain":["HN","NH","DN"],"range":["#ed2024","#2e4fa3","#6cbd45"]}}}},
{"data":{"name":"regions"},"mark":{"type":"point","filled":true,"size":4,"opacity":1,"strokeWidth":0},"encoding":{"shape":{"field":"region","type":"nominal","legend":null,"scale":{"domain":["HN & NH","HN & DN","NH & DN","All"],"range":["M 0 -37.55 A 31 31 0 0 1 14.6 -5.87 A 31 31 0 0 0 -14.6 -5.87 A 31 31 0 0 1 0 -37.55 Z","M -30.6 16.37 A 31 31 0 0 1 -14.6 -5.87 A 31 31 0 0 0 0 15.55 A 31 31 0 0 1 -30.6 16.37 Z","M 30.6 16.37 A 31 31 0 0 0 14.6 -5.87 A 31 31 0 0 1 0 15.55 A 31 31 0 0 0 30.6 16.37 Z","M 0 15.55 A 31 31 0 0 1 -14.6 -5.87 A 31 31 0 0 1 14.6 -5.87 A 31 31 0 0 1 0 15.55 Z"]}},"color":{"field":"region","type":"nominal","legend":null,"scale":{"domain":["HN & NH","HN & DN","NH & DN","All"],"range":["#a8499c","#f8ec1f","#5cc8e0","#cfcfcf"]}}}},
{"data":{"name":"venn"},"mark":{"type":"point","shape":"circle","filled":false,"size":3019,"opacity":1,"stroke":"#111","strokeWidth":1.5}},
{"data":{"name":"vennText"},"mark":{"type":"text","fontSize":12,"color":"#1a1a1a"},"encoding":{"text":{"field":"label"}}},
{"data":{"name":"vennNames"},"mark":{"type":"text","font":"Lato","fontSize":11,"align":"left","color":"#222"},"encoding":{"text":{"field":"label"}}},
{"data":{"values":[{"x":62,"y":60,"label":"A"},{"x":273,"y":60,"label":"C"}]},"mark":{"type":"text","fontSize":17,"fontWeight":"bold","color":"#111"},"encoding":{"text":{"field":"label"}}}
]},
{"width":290,"height":446,"data":{"name":"table"},
"encoding":{"y":{"field":"row","type":"quantitative","axis":null,"scale":{"domain":[-0.96,20.85],"nice":false,"zero":false,"reverse":true}}},
"layer":[
{"transform":[{"filter":"datum.shade"}],"mark":{"type":"rule","strokeWidth":20,"color":"#bcdcf4"},"encoding":{"x":{"datum":81,"type":"quantitative","axis":null,"scale":{"domain":[0,290],"nice":false,"zero":false}},"x2":{"datum":287}}},
{"transform":[{"filter":"!datum.head"}],"mark":{"type":"text","align":"left","baseline":"alphabetic","dy":4,"fontSize":12,"color":"#333","lineBreak":"\n","lineHeight":14},"encoding":{"x":{"datum":87,"type":"quantitative","axis":null},"text":{"field":"site"}}},
{"transform":[{"filter":"!datum.head"}],"mark":{"type":"text","align":"left","baseline":"alphabetic","dy":4,"fontSize":12,"color":"#333"},"encoding":{"x":{"datum":168,"type":"quantitative","axis":null},"text":{"field":"genes"}}},
{"transform":[{"filter":"!datum.head"}],"mark":{"type":"text","align":"left","baseline":"alphabetic","dy":4,"fontSize":12,"color":"#333"},"encoding":{"x":{"datum":235,"type":"quantitative","axis":null},"text":{"field":"p"}}},
{"transform":[{"filter":"datum.head"}],"mark":{"type":"text","align":"left","baseline":"alphabetic","dy":4,"fontSize":12,"fontWeight":"bold","color":"#333"},"encoding":{"x":{"datum":87,"type":"quantitative","axis":null},"text":{"field":"site"}}},
{"transform":[{"filter":"datum.head"}],"mark":{"type":"text","align":"left","baseline":"alphabetic","dy":4,"fontSize":12,"fontWeight":"bold","color":"#333"},"encoding":{"x":{"datum":168,"type":"quantitative","axis":null},"text":{"field":"genes"}}},
{"transform":[{"filter":"datum.head"}],"mark":{"type":"text","align":"left","baseline":"alphabetic","dy":4,"fontSize":12,"fontWeight":"bold","color":"#333"},"encoding":{"x":{"datum":235,"type":"quantitative","axis":null},"text":{"field":"p"}}},
{"data":{"values":[{"row":0.2,"label":"B"}]},"mark":{"type":"text","fontSize":17,"fontWeight":"bold","color":"#111"},"encoding":{"x":{"datum":62,"type":"quantitative","axis":null},"text":{"field":"label"}}}
]}
]},
{"width":503,"height":651,
"encoding":{"x":{"field":"col","type":"quantitative","axis":null,"scale":{"domain":[-12.7,37.6],"nice":false,"zero":false}},"y":{"field":"row","type":"quantitative","axis":null,"scale":{"domain":[-55,162],"nice":false,"zero":false,"reverse":true}}},
"resolve":{"scale":{"color":"independent"}},
"layer":[
{"data":{"values":[{"col":0.58,"col2":4.75,"row":-9.67},{"col":4.25,"col2":8.25,"row":-30}]},"mark":{"type":"area","orient":"horizontal","color":{"gradient":"linear","x1":0,"y1":1,"x2":0,"y2":0,"stops":[{"offset":0,"color":"#a0836a"},{"offset":1,"color":"#ffffff"}]}},"encoding":{"x2":{"field":"col2"}}},
{"data":{"values":[{"col":10.42,"col2":16.42,"row":-9.67},{"col":13.58,"col2":17.92,"row":-30}]},"mark":{"type":"area","orient":"horizontal","color":{"gradient":"linear","x1":0,"y1":1,"x2":0,"y2":0,"stops":[{"offset":0,"color":"#7ac143"},{"offset":1,"color":"#ffffff"}]}},"encoding":{"x2":{"field":"col2"}}},
{"data":{"values":[{"col":16.42,"col2":17.75,"row":-9.67},{"col":19.25,"col2":21.08,"row":-30}]},"mark":{"type":"area","orient":"horizontal","color":{"gradient":"linear","x1":0,"y1":1,"x2":0,"y2":0,"stops":[{"offset":0,"color":"#c45fae"},{"offset":1,"color":"#ffffff"}]}},"encoding":{"x2":{"field":"col2"}}},
{"data":{"values":[{"col":20.42,"col2":29.92,"row":-9.67},{"col":23.92,"col2":33.42,"row":-30}]},"mark":{"type":"area","orient":"horizontal","color":{"gradient":"linear","x1":0,"y1":1,"x2":0,"y2":0,"stops":[{"offset":0,"color":"#ef5a61"},{"offset":1,"color":"#ffffff"}]}},"encoding":{"x2":{"field":"col2"}}},
{"data":{"values":[{"col":30.18,"col2":31.75,"row":-9.67},{"col":33.58,"col2":35.85,"row":-30}]},"mark":{"type":"area","orient":"horizontal","color":{"gradient":"linear","x1":0,"y1":1,"x2":0,"y2":0,"stops":[{"offset":0,"color":"#5b69ad"},{"offset":1,"color":"#ffffff"}]}},"encoding":{"x2":{"field":"col2"}}},
{"data":{"name":"top"},"mark":{"type":"rule","strokeWidth":1},"encoding":{"x2":{"field":"col2"},"y2":{"field":"row2"},"color":{"field":"b","type":"nominal","legend":null,"scale":{"domain":["grey","brown","green","pink","red","blue"],"range":["#c9c9c9","#c27f55","#84c35c","#b978c6","#e8656c","#4f5da8"]}}}},
{"data":{"name":"left"},"mark":{"type":"rule","strokeWidth":1},"encoding":{"x2":{"field":"col2"},"y2":{"field":"row2"},"color":{"field":"b","type":"nominal","legend":null,"scale":{"domain":["grey","brown","green","pink","red","blue"],"range":["#d0d0d0","#c9875d","#84c35c","#cf66bd","#e8656c","#4f5da8"]}}}},
{"data":{"name":"frame"},"mark":{"type":"rect"},"encoding":{"x2":{"field":"col2"},"y2":{"field":"row2"},"color":{"field":"part","type":"nominal","legend":null,"scale":{"domain":["matrix","spacer"],"range":["#000000","#9a9a9a"]}}}},
{"data":{"name":"expression"},"transform":[{"fold":["DN","NH","HN","WT"],"as":["sample","z"]},{"lookup":"sample","from":{"data":{"name":"samples"},"key":"sample","fields":["col","col2"]}}],"mark":{"type":"rect"},"encoding":{"x2":{"field":"col2"},"y2":{"field":"row2"},"color":{"field":"z","type":"quantitative","scale":{"domain":[-2,-1.3,-0.7,0,0.7,1.3,2],"range":["#29b6ec","#0f7ea8","#0b4459","#000000","#57572a","#a8a63a","#fff200"]},"legend":{"orient":"none","legendX":6,"legendY":83,"title":null,"type":"symbol","values":[2,1.3,0.7,0,-0.7,-1.3,-2],"symbolType":"square","symbolSize":100,"symbolStrokeWidth":0,"clipHeight":8.7,"rowPadding":-2.3,"labelFontSize":10.5,"labelColor":"#222","labelOffset":6,"labelOverlap":false,"padding":0,"labelExpr":"datum.value >= 2 ? '>2.0' : datum.value <= -2 ? '<-2.0' : format(datum.value, '.1~f')"}}}},
{"data":{"name":"enrichment"},"mark":{"type":"rect"},"encoding":{"x2":{"field":"col2"},"y2":{"field":"row2"},"color":{"field":"v","type":"quantitative","scale":{"domain":[0,1.2,2.3,3.5],"range":["#000000","#4d2814","#a64f22","#f87425"]},"legend":{"orient":"none","legendX":10,"legendY":176,"title":null,"type":"symbol","values":[3.5,2.3,1.2,0],"symbolType":"square","symbolSize":100,"symbolStrokeWidth":0,"clipHeight":8.5,"rowPadding":-2.5,"labelFontSize":10.5,"labelColor":"#222","labelOffset":6,"labelOverlap":false,"padding":0,"labelExpr":"datum.value >= 3.5 ? '>3.5' : format(datum.value, '.1~f')"}}}},
{"data":{"name":"boxes"},"mark":{"type":"rect","filled":false,"strokeWidth":1.8},"encoding":{"x2":{"field":"col2"},"y2":{"field":"row2"},"color":{"field":"name","type":"nominal","legend":null,"scale":{"domain":["D","E","F","G","H"],"range":["#ed1c24","#6abd45","#b8946a","#b0287c","#2a8fd0"]}}}},
{"data":{"name":"boxes"},"mark":{"type":"text","fontSize":16},"encoding":{"x":{"field":"textCol","type":"quantitative","axis":null},"y":{"field":"textRow","type":"quantitative","axis":null},"text":{"field":"name"},"color":{"field":"name","type":"nominal","legend":null,"scale":{"domain":["D","E","F","G","H"],"range":["#ed1c24","#6abd45","#a08a70","#b0287c","#2a8fd0"]}}}},
{"data":{"name":"sampleLabels"},"mark":{"type":"text","angle":-59,"align":"left","baseline":"middle","fontSize":11.5,"color":"#111"},"encoding":{"text":{"field":"label"}}},
{"data":{"name":"bandLabels"},"mark":{"type":"text","angle":-58,"align":"left","baseline":"alphabetic","fontSize":11.5,"color":"#111","lineBreak":"\n","lineHeight":10.5},"encoding":{"text":{"field":"label"}}},
{"data":{"name":"legendTitles"},"mark":{"type":"text","align":"center","baseline":"alphabetic","fontSize":12,"color":"#222","lineBreak":"\n","lineHeight":11},"encoding":{"text":{"field":"label"}}}
]}
]}
